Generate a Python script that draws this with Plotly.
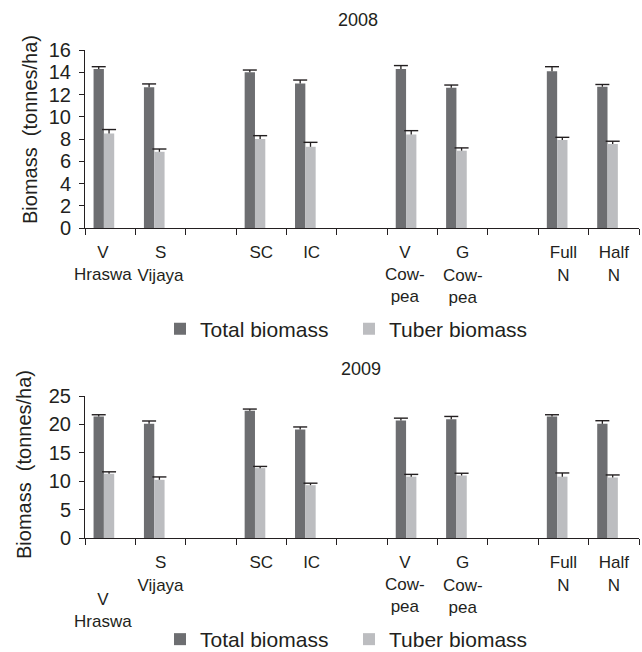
import plotly.graph_objects as go

# ---- data ----
slots = ["V<br>Hraswa", "S<br>Vijaya", "", "SC", "IC", "",
         "V<br>Cow-<br>pea", "G<br>Cow-<br>pea", "", "Full<br>N", "Half<br>N"]
treatments = ["V Hraswa", "S Vijaya", "SC", "IC", "V Cowpea", "G Cowpea", "Full N", "Half N"]

total_2008 = [14.3, 12.65, 14.0, 13.0, 14.3, 12.6, 14.1, 12.7]
total_2008_err = [0.2, 0.3, 0.2, 0.3, 0.3, 0.25, 0.4, 0.2]
tuber_2008 = [8.5, 6.85, 8.0, 7.3, 8.4, 6.95, 7.9, 7.55]
tuber_2008_err = [0.35, 0.25, 0.3, 0.4, 0.35, 0.25, 0.25, 0.25]

total_2009 = [21.4, 20.1, 22.4, 19.1, 20.7, 20.9, 21.4, 20.1]
total_2009_err = [0.3, 0.5, 0.3, 0.45, 0.4, 0.5, 0.3, 0.55]
tuber_2009 = [11.3, 10.25, 12.3, 9.3, 10.8, 11.0, 10.8, 10.65]
tuber_2009_err = [0.35, 0.5, 0.3, 0.35, 0.4, 0.4, 0.65, 0.45]

# ---- style ----
DARK = "#6d6e71"
LIGHT = "#bcbdc0"
INK = "#231f20"
FONT = "Liberation Sans, Arial, sans-serif"
XFONT = 17
BAR_W = 0.205
OFF_TOTAL = -0.33
OFF_TUBER = -0.125
SHIFTED = {0, 6}          # slots whose labels sit a little left of centre

xpos = [i for i, s in enumerate(slots) if s]

fig = go.Figure()


def add_year(vals_total, err_total, vals_tuber, err_tuber, xa, ya, legend):
    for name, vals, errs, col, off in [
        ("Total biomass", vals_total, err_total, DARK, OFF_TOTAL),
        ("Tuber biomass", vals_tuber, err_tuber, LIGHT, OFF_TUBER),
    ]:
        fig.add_trace(go.Bar(
            x=xpos, y=vals, name=name, marker=dict(color=col, line=dict(width=0)),
            width=BAR_W, offset=off, xaxis=xa, yaxis=ya, legend=legend,
            hovertext=treatments,
        ))
        # plus-only error bars: stem via error_y, cap via marker
        xc = [x + off + BAR_W / 2 for x in xpos]
        tops = [v + e for v, e in zip(vals, errs)]
        fig.add_trace(go.Scatter(
            x=xc, y=tops, mode="markers", showlegend=False, xaxis=xa, yaxis=ya,
            marker=dict(symbol="line-ew-open", size=10, color=INK,
                        line=dict(color=INK, width=1.4)),
            error_y=dict(type="data", symmetric=False, array=[0] * len(errs),
                         arrayminus=errs, color=INK, thickness=1.3, width=0),
            hoverinfo="skip",
        ))


add_year(total_2008, total_2008_err, tuber_2008, tuber_2008_err, "x", "y", "legend")
add_year(total_2009, total_2009_err, tuber_2009, tuber_2009_err, "x2", "y2", "legend2")

xdom = [85 / 642, 639 / 642]
xcommon = dict(
    range=[-0.5, len(slots) - 0.5], showline=True, linecolor=INK, linewidth=1,
    showgrid=False, zeroline=False, ticks="", tickmode="array", tickangle=0,
    tickvals=list(range(len(slots))), automargin=False, ticklabelstandoff=9,
    tickfont=dict(family=FONT, size=XFONT, color=INK),
    minor=dict(ticks="outside", ticklen=6, tickwidth=1, tickcolor=INK,
               tick0=-0.5, dtick=1, showgrid=False),
    fixedrange=True,
)
ycommon = dict(
    showline=True, linecolor=INK, linewidth=1, showgrid=False, zeroline=False,
    ticks="outside", ticklen=5, tickwidth=1, tickcolor=INK, automargin=False,
    ticklabelstandoff=4,
    tickfont=dict(family=FONT, size=20, color=INK), fixedrange=True,
)

ticks_2008 = ["" if i in SHIFTED else s for i, s in enumerate(slots)]
ticks_2009 = ["" if i in SHIFTED else s for i, s in enumerate(slots)]

LEG = dict(orientation="h", xanchor="left", entrywidth=144, entrywidthmode="pixels",
           font=dict(family=FONT, size=21, color=INK), bgcolor="rgba(0,0,0,0)")

annotations = [
    dict(text="2008", xref="paper", yref="paper", x=358 / 642, y=1 - 20 / 652,
         xanchor="center", yanchor="middle",
         showarrow=False, font=dict(size=18, family=FONT, color=INK)),
    dict(text="2009", xref="paper", yref="paper", x=361 / 642, y=1 - 369 / 652,
         xanchor="center", yanchor="middle",
         showarrow=False, font=dict(size=18, family=FONT, color=INK)),
    dict(text="Biomass  (tonnes/ha)", xref="paper", yref="paper", x=30 / 642, y=1 - 130 / 652,
         xanchor="center", yanchor="middle",
         textangle=-90, showarrow=False, font=dict(size=20, family=FONT, color=INK)),
    dict(text="Biomass  (tonnes/ha)", xref="paper", yref="paper", x=24 / 642, y=1 - 465 / 652,
         xanchor="center", yanchor="middle",
         textangle=-90, showarrow=False, font=dict(size=20, family=FONT, color=INK)),
]
# labels placed slightly left of their slot (as in the original layout)
for xa, ya, drops in [("x", "y", {0: -13, 6: -13}), ("x2", "y2", {0: -50, 6: -13})]:
    for i in sorted(SHIFTED):
        annotations.append(dict(
            text=slots[i], xref=xa, yref=ya, x=i, y=0, xanchor="center", yanchor="top",
            xshift=-7, yshift=drops[i], showarrow=False,
            font=dict(size=XFONT, family=FONT, color=INK)))

fig.update_layout(
    width=642, height=652, margin=dict(l=0, r=0, t=0, b=0, autoexpand=False),
    paper_bgcolor="white", plot_bgcolor="white", barmode="overlay",
    font=dict(family=FONT, color=INK),
    xaxis=dict(domain=xdom, anchor="y", ticktext=ticks_2008, **xcommon),
    yaxis=dict(domain=[1 - 228 / 652, 1 - 50 / 652], anchor="x", range=[0, 16], dtick=2, **ycommon),
    xaxis2=dict(domain=xdom, anchor="y2", ticktext=ticks_2009, **xcommon),
    yaxis2=dict(domain=[1 - 538 / 652, 1 - 396 / 652], anchor="x2", range=[0, 25], dtick=5, **ycommon),
    legend=dict(x=160 / 642, y=1 - 329 / 652, yanchor="middle", **LEG),
    legend2=dict(x=160 / 642, y=-8 / 652, yanchor="bottom", **LEG),
    annotations=annotations,
)

fig.write_html("out.html", config={"displayModeBar": False},
               post_script="document.body.style.margin='0';")
